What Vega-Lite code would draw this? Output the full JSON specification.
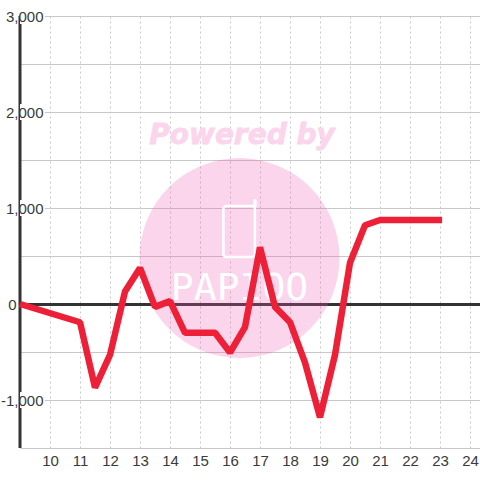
{
  "$schema": "https://vega.github.io/schema/vega-lite/v6.json",
  "width": 460,
  "height": 432,
  "padding": {"left": 20, "top": 16, "right": 0, "bottom": 32},
  "autosize": "none",
  "background": "white",
  "config": {"view": {"stroke": null}, "axis": {"labelFont": "Liberation Sans", "labelFontSize": 15, "labelColor": "#3a3a3a"}},
  "resolve": {"axis": {"y": "independent"}},
  "datasets": {
    "net": [
      {"hour": 9, "value": 0}, {"hour": 11, "value": -190}, {"hour": 11.5, "value": -870},
      {"hour": 12, "value": -530}, {"hour": 12.5, "value": 130}, {"hour": 13, "value": 375},
      {"hour": 13.5, "value": -30}, {"hour": 14, "value": 30}, {"hour": 14.5, "value": -300},
      {"hour": 15, "value": -300}, {"hour": 15.5, "value": -300}, {"hour": 16, "value": -505},
      {"hour": 16.5, "value": -240}, {"hour": 17, "value": 590}, {"hour": 17.5, "value": -30},
      {"hour": 18, "value": -190}, {"hour": 18.5, "value": -610}, {"hour": 19, "value": -1180},
      {"hour": 19.5, "value": -530}, {"hour": 20, "value": 430}, {"hour": 20.5, "value": 820},
      {"hour": 21, "value": 875}, {"hour": 22, "value": 875}, {"hour": 23.07, "value": 875}
    ],
    "labelBg": [
      {"v": 3000, "lo": 2917, "hi": 3083, "hour": 9, "hourEnd": 9.83},
      {"v": 2000, "lo": 1917, "hi": 2083, "hour": 9, "hourEnd": 9.83},
      {"v": 1000, "lo": 917, "hi": 1083, "hour": 9, "hourEnd": 9.83},
      {"v": -1000, "lo": -1083, "hi": -917, "hour": 9, "hourEnd": 9.83}
    ]
  },
  "encoding": {
    "x": {"field": "hour", "type": "quantitative", "scale": {"domain": [9, 24.333], "nice": false, "zero": false},
      "axis": {"values": [10, 11, 12, 13, 14, 15, 16, 17, 18, 19, 20, 21, 22, 23, 24], "title": null, "domain": false, "ticks": false, "labelPadding": 5, "grid": true, "gridColor": "#c8c8c8", "gridDash": [2, 3], "gridWidth": 1, "labelFlush": false}}
  },
  "layer": [
    {
      "data": {"values": [{"hour": 16.317, "value": 479}]},
      "mark": {"type": "point", "shape": "circle", "filled": true, "size": 40000, "fill": "#ef57b3", "opacity": 0.25, "strokeWidth": 0},
      "encoding": {
        "y": {"field": "value", "type": "quantitative", "scale": {"domain": [-1500, 3000], "nice": false, "zero": false},
          "axis": {"values": [-1500, -1000, -500, 0, 500, 1000, 1500, 2000, 2500, 3000], "title": null, "domain": false, "ticks": false, "labels": false,
            "grid": true, "gridColor": {"condition": {"test": "datum.value === 0", "value": "#333333"}, "value": "#c8c8c8"}, "gridWidth": {"condition": {"test": "datum.value === 0", "value": 3}, "value": 1}}}
      }
    },
    {
      "data": {"values": [{"hour": 16.4, "value": 1750, "label": "Powered by"}]},
      "mark": {"type": "text", "font": "DejaVu Sans", "fontSize": 28, "fontWeight": "bold", "fontStyle": "italic", "fill": "#fbd5ec", "stroke": "#fbd5ec", "strokeWidth": 0.8, "align": "center", "baseline": "middle"},
      "encoding": {"y": {"field": "value", "type": "quantitative", "axis": null}, "text": {"field": "label"}}
    },
    {
      "data": {"values": [{"hour": 15.78, "hourEnd": 16.83, "lo": 490, "hi": 1021}]},
      "mark": {"type": "rect", "fill": null, "stroke": "white", "strokeWidth": 2.5, "cornerRadius": 3},
      "encoding": {"x2": {"field": "hourEnd"}, "y": {"field": "lo", "type": "quantitative", "axis": null}, "y2": {"field": "hi"}}
    },
    {
      "data": {"values": [{"hour": 16.83, "lo": 1021, "hi": 1075}]},
      "mark": {"type": "rule", "stroke": "white", "strokeWidth": 3.5, "strokeCap": "round"},
      "encoding": {"y": {"field": "lo", "type": "quantitative", "axis": null}, "y2": {"field": "hi"}}
    },
    {
      "data": {"values": [{"hour": 16.317, "value": 156, "label": "PAPIOO"}]},
      "mark": {"type": "text", "font": "DejaVu Sans Mono", "fontSize": 38, "fill": "white", "align": "center", "baseline": "middle"},
      "encoding": {"y": {"field": "value", "type": "quantitative", "axis": null}, "text": {"field": "label"}}
    },
    {
      "data": {"values": [{"hour": 9, "lo": -1500, "hi": 3000}]},
      "mark": {"type": "rule", "stroke": "#333333", "strokeWidth": 3},
      "encoding": {"y": {"field": "lo", "type": "quantitative", "axis": null}, "y2": {"field": "hi"}}
    },
    {
      "data": {"name": "labelBg"},
      "mark": {"type": "rect", "fill": "white", "stroke": null},
      "encoding": {"x2": {"field": "hourEnd"}, "y": {"field": "lo", "type": "quantitative", "axis": null}, "y2": {"field": "hi"}}
    },
    {
      "data": {"name": "net"},
      "mark": {"type": "line", "stroke": "#ee2038", "strokeWidth": 6.5, "strokeJoin": "bevel", "strokeCap": "butt"},
      "encoding": {
        "y": {"field": "value", "type": "quantitative",
          "axis": {"orient": "left", "values": [-1000, 0, 1000, 2000, 3000], "labelExpr": "replace(format(datum.value, ','), '−', '-')", "title": null, "domain": false, "ticks": false, "grid": false, "zindex": 1, "labelAlign": "right",
            "labelPadding": {"condition": {"test": "datum.value === 0", "value": 4}, "value": -23}}}
      }
    }
  ]
}
